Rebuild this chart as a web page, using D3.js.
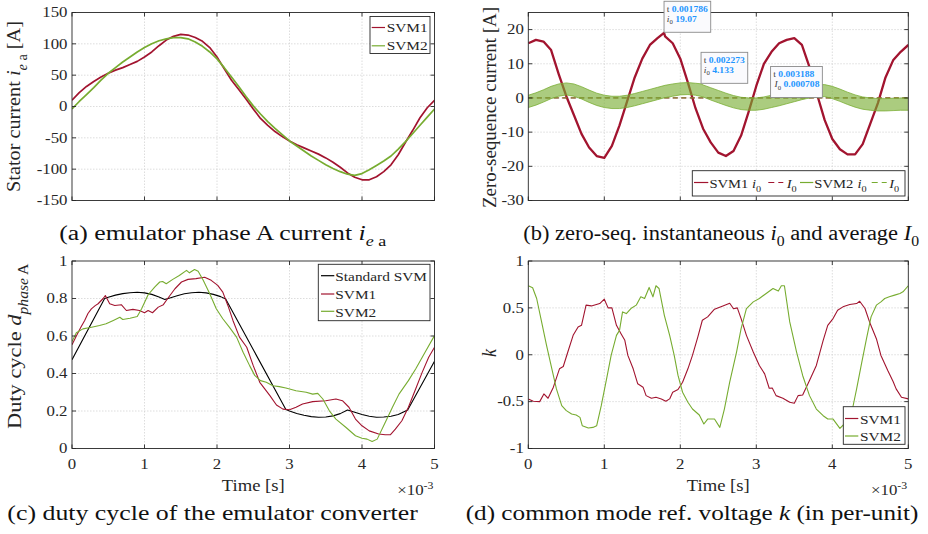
<!DOCTYPE html>
<html>
<head>
<meta charset="utf-8">
<script src="https://cdn.jsdelivr.net/npm/d3@7"></script>
<style>
  html, body { margin: 0; padding: 0; background: #fff; }
  svg { display: block; font-family: "Liberation Serif", "Times New Roman", serif; }
  text { white-space: pre; }
</style>
</head>
<body>
<svg id="fig" width="928" height="534"></svg>
<script>
// ---------------- data (time in ms) ----------------
const tGrid = [0,0.1,0.2,0.3,0.4,0.5,0.6,0.7,0.8,0.9,1,1.1,1.2,1.3,1.4,1.5,1.6,1.7,1.8,1.9,2,2.1,2.2,2.3,2.4,2.5,2.6,2.7,2.8,2.9,3,3.1,3.2,3.3,3.4,3.5,3.6,3.7,3.8,3.9,4,4.1,4.2,4.3,4.4,4.5,4.6,4.7,4.8,4.9,5];

// (a) emulator phase A current [A]
const svm1Current = [10,22,32,40,47,53,58,62,67,72,79,87,97,106,112,115,114,110,104,94,79,60,42,27,12,-4,-19,-30,-40,-48,-55,-61,-66,-71,-76,-82,-89,-97,-106,-113,-117,-117,-112,-104,-93,-77,-57,-38,-18,-2,10];
const svm2Current = [-4,8,19,30,42,53,62,71,79,87,94,100,105,108,110,110,108,103,96,87,76,62,47,32,16,1,-12,-24,-35,-45,-55,-63,-71,-79,-86,-93,-99,-104,-108,-110,-107,-101,-94,-87,-79,-68,-56,-43,-30,-17,-4];

// (b) zero-sequence current [A]
const tZs1 = [0,0.1,0.2,0.3,0.4,0.5,0.6,0.7,0.8,0.9,1,1.1,1.2,1.3,1.4,1.5,1.6,1.7,1.786,1.8,1.9,2,2.1,2.2,2.3,2.4,2.5,2.6,2.7,2.8,2.9,3,3.1,3.2,3.3,3.4,3.5,3.6,3.7,3.8,3.9,4,4.1,4.2,4.3,4.4,4.5,4.6,4.7,4.8,4.9,5];
const svm1Zs = [16,17,16.5,14,7,0.5,-5,-10.5,-14.5,-17,-17.5,-14,-8,-1,6,11.5,15.5,17.5,19.07,18,16,11.5,4.5,-3,-9,-13,-16,-17,-15.5,-11,-4,3.5,10,13.5,16,17,17.5,15.5,9,1,-6.5,-12,-15,-16.5,-16.5,-13.5,-7.5,-1.5,6,11,13.5,15.5];
const tZs2 = [0,0.1,0.2,0.3,0.4,0.5,0.6,0.7,0.8,0.9,1,1.1,1.2,1.3,1.4,1.5,1.6,1.7,1.8,1.9,2,2.1,2.2,2.273,2.3,2.4,2.5,2.6,2.7,2.8,2.9,3,3.1,3.2,3.3,3.4,3.5,3.6,3.7,3.8,3.9,4,4.1,4.2,4.3,4.4,4.5,4.6,4.7,4.8,4.9,5];
const svm2ZsUpper = [0.8,1.5,2.4,3.4,4.1,4.4,4.1,3.3,2.3,1.4,0.8,0.5,0.5,0.8,1.3,1.9,2.5,3.1,3.7,4.1,4.4,4.5,4.3,4.133,3.8,3.0,2.2,1.4,0.7,0.2,0.0,0.0,0.3,0.8,1.3,1.9,2.5,3.1,3.6,3.9,3.9,3.4,2.6,1.7,0.9,0.3,0.0,-0.2,-0.2,-0.1,0.0,0.0];
const svm2ZsLower = [-2.8,-2.1,-1.2,-0.2,0.5,0.9,0.5,-0.3,-1.3,-2.2,-2.8,-3.1,-3.1,-2.8,-2.3,-1.7,-1.1,-0.5,0.1,0.5,0.9,1.0,0.8,0.45,0.3,-0.6,-1.4,-2.2,-2.9,-3.4,-3.6,-3.6,-3.3,-2.8,-2.3,-1.7,-1.1,-0.5,0.0,0.4,0.4,-0.2,-1.0,-1.9,-2.7,-3.3,-3.6,-3.8,-3.8,-3.7,-3.6,-3.6];
const tAvg = [0, 5];
const svm1Avg = [0, 0];
const svm2Avg = [0.000708, 0.000708];

// (c) duty cycle of phase A
const tStd = [0,0.45,0.5,0.6,0.7,0.8,0.9,1.0,1.1,1.2,1.28,1.35,1.45,1.55,1.65,1.75,1.85,1.95,2.05,2.12,2.95,3.0,3.1,3.2,3.3,3.4,3.5,3.6,3.7,3.8,3.9,4.0,4.1,4.2,4.3,4.4,4.5,4.63,5.0];
const dutyStd = [0.474,0.800,0.807,0.818,0.826,0.831,0.833,0.830,0.822,0.808,0.795,0.803,0.815,0.825,0.831,0.833,0.830,0.822,0.810,0.797,0.208,0.200,0.187,0.177,0.170,0.167,0.168,0.174,0.186,0.205,0.193,0.181,0.172,0.167,0.168,0.172,0.181,0.205,0.465];
const tDuty1 = [0,0.06,0.12,0.175,0.22,0.267,0.32,0.36,0.43,0.46,0.52,0.59,0.68,0.75,0.84,0.93,1.0,1.05,1.11,1.19,1.26,1.32,1.42,1.51,1.6,1.71,1.83,1.92,2.01,2.08,2.15,2.22,2.31,2.41,2.5,2.59,2.73,2.82,2.91,3.0,3.09,3.18,3.32,3.5,3.64,3.73,3.82,3.91,4.0,4.1,4.23,4.32,4.39,4.46,4.55,4.64,4.74,4.83,4.92,5.0];
const duty1 = [0.553,0.60,0.645,0.683,0.72,0.745,0.762,0.772,0.80,0.816,0.772,0.763,0.767,0.736,0.742,0.736,0.724,0.736,0.724,0.754,0.767,0.80,0.852,0.888,0.902,0.906,0.913,0.897,0.87,0.834,0.763,0.683,0.594,0.54,0.442,0.353,0.282,0.232,0.21,0.207,0.22,0.237,0.25,0.255,0.264,0.255,0.22,0.157,0.121,0.094,0.077,0.073,0.073,0.103,0.148,0.22,0.317,0.406,0.487,0.54];
const tDuty2 = [0,0.06,0.15,0.27,0.38,0.47,0.57,0.66,0.7,0.8,0.9,0.96,1.05,1.14,1.21,1.25,1.3,1.39,1.48,1.58,1.62,1.69,1.74,1.81,1.9,1.99,2.08,2.17,2.27,2.36,2.45,2.52,2.6,2.68,2.77,2.86,2.95,3.09,3.23,3.32,3.39,3.46,3.55,3.64,3.78,3.91,4.0,4.07,4.14,4.21,4.32,4.42,4.51,4.64,4.74,4.87,5.0];
const duty2 = [0.57,0.617,0.638,0.647,0.656,0.665,0.683,0.70,0.688,0.695,0.704,0.745,0.82,0.861,0.888,0.891,0.879,0.902,0.923,0.95,0.937,0.955,0.945,0.897,0.825,0.745,0.692,0.647,0.594,0.513,0.442,0.39,0.362,0.353,0.335,0.33,0.323,0.308,0.30,0.29,0.294,0.264,0.201,0.157,0.112,0.068,0.055,0.05,0.037,0.05,0.139,0.22,0.29,0.362,0.424,0.513,0.602];

// (d) common mode reference voltage k [p.u.]
const tK1 = [0,0.066,0.15,0.205,0.26,0.33,0.41,0.46,0.52,0.59,0.655,0.7,0.76,0.83,0.94,1.0,1.05,1.1,1.16,1.22,1.27,1.31,1.38,1.44,1.51,1.55,1.62,1.68,1.75,1.81,1.86,1.9,1.97,2.03,2.1,2.16,2.23,2.29,2.36,2.45,2.56,2.65,2.7,2.75,2.8,2.87,2.96,3.04,3.11,3.17,3.21,3.26,3.35,3.44,3.5,3.55,3.61,3.7,3.79,3.88,3.94,4.01,4.07,4.14,4.23,4.32,4.36,4.43,4.49,4.58,4.64,4.73,4.8,4.84,4.91,5.0];
const k1 = [-0.471,-0.496,-0.5,-0.418,-0.464,-0.346,-0.15,-0.125,0.029,0.207,0.296,0.314,0.529,0.521,0.546,0.593,0.5,0.5,0.314,0.225,0.154,-0.007,-0.15,-0.31,-0.346,-0.436,-0.464,-0.454,-0.471,-0.496,-0.471,-0.4,-0.371,-0.293,-0.15,-0.007,0.189,0.368,0.404,0.486,0.521,0.55,0.49,0.5,0.386,0.207,0.029,-0.114,-0.204,-0.357,-0.354,-0.436,-0.464,-0.507,-0.518,-0.436,-0.429,-0.275,-0.114,0.154,0.314,0.386,0.475,0.511,0.536,0.546,0.571,0.493,0.35,0.171,-0.007,-0.168,-0.286,-0.364,-0.454,-0.471];
const tK2 = [0,0.057,0.11,0.175,0.24,0.31,0.37,0.44,0.5,0.57,0.63,0.68,0.71,0.79,0.85,0.9,0.96,1.03,1.09,1.16,1.2,1.24,1.29,1.35,1.42,1.48,1.53,1.59,1.64,1.68,1.72,1.79,1.86,1.92,1.97,2.03,2.1,2.16,2.25,2.31,2.36,2.45,2.52,2.58,2.65,2.74,2.8,2.87,2.96,3.04,3.13,3.22,3.29,3.33,3.37,3.44,3.53,3.61,3.7,3.79,3.88,3.94,4.01,4.1,4.18,4.27,4.32,4.38,4.45,4.51,4.58,4.64,4.69,4.75,4.82,4.89,4.93,5.0];
const k2 = [0.736,0.714,0.6,0.35,0.1,-0.15,-0.364,-0.543,-0.596,-0.632,-0.643,-0.668,-0.757,-0.782,-0.775,-0.757,-0.543,-0.257,-0.007,0.207,0.26,0.457,0.439,0.493,0.529,0.618,0.6,0.718,0.618,0.736,0.707,0.421,0.207,-0.007,-0.221,-0.4,-0.507,-0.579,-0.643,-0.739,-0.686,-0.686,-0.775,-0.579,-0.293,0.029,0.279,0.493,0.564,0.6,0.654,0.707,0.679,0.736,0.736,0.35,0.029,-0.221,-0.436,-0.579,-0.65,-0.686,-0.686,-0.786,-0.72,-0.56,-0.364,-0.114,0.171,0.404,0.529,0.564,0.6,0.618,0.636,0.654,0.671,0.736];

// ticks
const xTicks = [0, 1, 2, 3, 4, 5];
const yTicksA = [-150, -100, -50, 0, 50, 100, 150];
const yTicksB = [-30, -20, -10, 0, 10, 20];
const yTicksC = [0, 0.2, 0.4, 0.6, 0.8, 1];
const yTicksD = [-1, -0.5, 0, 0.5, 1];

// data tips on panel (b): time in s
const tipTimes = [0.001786, 0.002273, 0.003188];
const tipValues = [19.07, 4.133, 0.000708];
const tipNames = ["i", "i", "I"];

// ---------------- drawing ----------------
const RED = "#a2142f", GREEN = "#77ac30", AXIS = "#262626";
const SX = 1.2;
const svg = d3.select("#fig");
const defs = svg.append("defs");

function addParts(text, parts, fs) {
  let shift = 0;
  parts.forEach(p => {
    const level = p.sub ? fs * 0.32 : p.sup ? -fs * 0.42 : 0;
    const ts = text.append("tspan").attr("dy", (level - shift).toFixed(2)).text(p.t);
    shift = level;
    if (p.it) ts.attr("font-style", "italic");
    if (p.b) ts.attr("font-weight", "bold");
    if (p.sub || p.sup) ts.attr("font-size", (fs * 0.7).toFixed(2));
    if (p.fill) ts.attr("fill", p.fill);
  });
}

function label(parent, parts, o) {
  const fs = o.fs || 14;
  const g = parent.append("g");
  const t = g.append("text").attr("font-size", fs).attr("fill", o.fill || AXIS);
  addParts(t, parts, fs);
  const bb = t.node().getBBox();
  const sx = o.width ? o.width / bb.width : (o.sx || SX);
  const sy = o.sy || 1;
  const a = o.anchor || "start";
  const ox = a === "start" ? -bb.x : a === "middle" ? -(bb.x + bb.width / 2) : -(bb.x + bb.width);
  const oy = o.vcenter ? -(bb.y + bb.height / 2) : 0;
  t.attr("transform", `translate(${ox},${oy})`);
  g.attr("transform", `translate(${o.x},${o.y}) rotate(${o.rotate || 0}) scale(${sx},${sy})`);
  return { g, w: bb.width * sx };
}

function makePanel(id, box, yDomain, yTicks, showXLabels) {
  const x = d3.scaleLinear().domain([0, 5]).range([box.x0, box.x1]);
  const y = d3.scaleLinear().domain(yDomain).range([box.y1, box.y0]);
  const g = svg.append("g");
  // grid
  const grid = g.append("g").attr("stroke", "#d4d4d4").attr("stroke-width", 0.8).attr("stroke-dasharray", "1.5,1.5");
  xTicks.filter(v => v > 0 && v < 5).forEach(v =>
    grid.append("line").attr("x1", x(v)).attr("x2", x(v)).attr("y1", box.y0).attr("y2", box.y1));
  yTicks.filter(v => y(v) > box.y0 + 1 && y(v) < box.y1 - 1).forEach(v =>
    grid.append("line").attr("y1", y(v)).attr("y2", y(v)).attr("x1", box.x0).attr("x2", box.x1));
  defs.append("clipPath").attr("id", "clip-" + id).append("rect")
    .attr("x", box.x0).attr("y", box.y0).attr("width", box.x1 - box.x0).attr("height", box.y1 - box.y0);
  const plot = g.append("g").attr("clip-path", `url(#clip-${id})`);
  const over = svg.append("g");
  const frame = () => {
    const f = over.append("g");
    f.append("rect").attr("x", box.x0).attr("y", box.y0)
      .attr("width", box.x1 - box.x0).attr("height", box.y1 - box.y0)
      .attr("fill", "none").attr("stroke", AXIS).attr("stroke-width", 0.9);
    const tk = f.append("g").attr("stroke", AXIS).attr("stroke-width", 0.9);
    const L = 4;
    xTicks.forEach(v => {
      tk.append("line").attr("x1", x(v)).attr("x2", x(v)).attr("y1", box.y1).attr("y2", box.y1 - L);
      tk.append("line").attr("x1", x(v)).attr("x2", x(v)).attr("y1", box.y0).attr("y2", box.y0 + L);
    });
    yTicks.forEach(v => {
      tk.append("line").attr("y1", y(v)).attr("y2", y(v)).attr("x1", box.x0).attr("x2", box.x0 + L);
      tk.append("line").attr("y1", y(v)).attr("y2", y(v)).attr("x1", box.x1).attr("x2", box.x1 - L);
    });
    yTicks.forEach(v => label(f, [{ t: String(v) }], { x: box.x0 - 4.5, y: y(v) + 4.8, anchor: "end", fs: 14 }));
    if (showXLabels) {
      xTicks.forEach(v => label(f, [{ t: String(v) }], { x: x(v), y: 468.5, anchor: "middle", fs: 14 }));
      label(f, [{ t: "Time [s]" }], { x: (box.x0 + box.x1) / 2, y: 491, anchor: "middle", fs: 17, width: 63 });
      label(f, [{ t: "\u00d710" }, { t: "-3", sup: true }], { x: box.x1 - 1, y: 495, anchor: "end", fs: 14 });
    }
    return f;
  };
  return { x, y, plot, over, frame, box };
}

const pts = (ts, vs) => ts.map((t, i) => [t, vs[i]]);
function drawLine(P, data, color, width, dash, opacity) {
  const line = d3.line().x(d => P.x(d[0])).y(d => P.y(d[1]));
  const p = P.plot.append("path").attr("d", line(data)).attr("fill", "none")
    .attr("stroke", color).attr("stroke-width", width).attr("stroke-linejoin", "round");
  if (dash) p.attr("stroke-dasharray", dash);
  if (opacity) p.attr("stroke-opacity", opacity);
  return p;
}

function legendBox(parent, x, y, w, h) {
  parent.append("rect").attr("x", x).attr("y", y).attr("width", w).attr("height", h)
    .attr("fill", "#fff").attr("stroke", AXIS).attr("stroke-width", 0.9);
}
function legendSample(parent, x1, x2, y, color, dash, opacity) {
  const l = parent.append("line").attr("x1", x1).attr("x2", x2).attr("y1", y).attr("y2", y)
    .attr("stroke", color).attr("stroke-width", 1.2);
  if (dash) l.attr("stroke-dasharray", dash);
  if (opacity) l.attr("stroke-opacity", opacity);
}

// ---- (a) ----
const A = makePanel("a", { x0: 72, x1: 434.5, y0: 12.5, y1: 200.5 }, [-150, 150], yTicksA, false);
drawLine(A, pts(tGrid, svm1Current), RED, 1.7);
drawLine(A, pts(tGrid, svm2Current), GREEN, 1.7);
{
  const f = A.frame();
  legendBox(f, 370, 16.5, 60, 37);
  legendSample(f, 371.7, 385, 27.5, RED);
  legendSample(f, 371.7, 385, 45.8, GREEN);
  label(f, [{ t: "SVM1" }], { x: 386.7, y: 31.7, fs: 12.8 });
  label(f, [{ t: "SVM2" }], { x: 386.7, y: 50, fs: 12.8 });
  label(svg, [{ t: "Stator current " }, { t: "i", it: true }, { t: "e", it: true, sub: true }, { t: " a", sub: true }, { t: " [A]" }],
    { x: 16.5, y: 106.5, rotate: -90, anchor: "middle", vcenter: true, fs: 17, width: 171, sy: 1.15 });
  label(svg, [{ t: "(a) emulator phase A current " }, { t: "i", it: true }, { t: "e", it: true, sub: true }, { t: " a", sub: true }],
    { x: 59.3, y: 239.5, fs: 20, width: 328, fill: "#111" });
}

// ---- (b) ----
const B = makePanel("b", { x0: 528.3, x1: 908.3, y0: 12.5, y1: 200.5 }, [-30, 25], yTicksB, false);
drawLine(B, pts(tZs1, svm1Zs), RED, 2.3);
drawLine(B, pts(tAvg, svm1Avg), RED, 1.3, "5,3.5");
{
  const area = d3.area().x(d => B.x(d[0])).y0(d => B.y(d[1])).y1(d => B.y(d[2]));
  const band = tZs2.map((t, i) => [t, svm2ZsLower[i], svm2ZsUpper[i]]);
  B.plot.append("path").attr("d", area(band)).attr("fill", GREEN).attr("fill-opacity", 0.62);
  drawLine(B, pts(tZs2, svm2ZsUpper), GREEN, 0.9, null, 0.85);
  drawLine(B, pts(tZs2, svm2ZsLower), GREEN, 0.9, null, 0.85);
}
drawLine(B, pts(tAvg, svm2Avg), GREEN, 1.3, "5,3.5", 0.7);
{
  const f = B.frame();
  legendBox(f, 692.3, 170.7, 212.7, 25.3);
  const ly = 182.5, by = 188.3, lf = 12.2;
  legendSample(f, 694, 708.3, ly, RED);
  label(f, [{ t: "SVM1" }], { x: 709.4, y: by, fs: lf });
  label(f, [{ t: "i", it: true }, { t: "0", sub: true }], { x: 752, y: by, fs: lf });
  legendSample(f, 768.3, 783.3, ly, RED, "6,4");
  label(f, [{ t: "I", it: true }, { t: "0", sub: true }], { x: 785.5, y: by, fs: lf });
  legendSample(f, 800, 813.3, ly, GREEN);
  label(f, [{ t: "SVM2" }], { x: 814.3, y: by, fs: lf });
  label(f, [{ t: "i", it: true }, { t: "0", sub: true }], { x: 857.5, y: by, fs: lf });
  legendSample(f, 871.7, 886.7, ly, GREEN, "6,4");
  label(f, [{ t: "I", it: true }, { t: "0", sub: true }], { x: 888, y: by, fs: lf });
  label(svg, [{ t: "Zero-sequence current [A]" }],
    { x: 489.5, y: 107.5, rotate: -90, anchor: "middle", vcenter: true, fs: 17, width: 201, sy: 1.15 });
  label(svg, [{ t: "(b) zero-seq. instantaneous " }, { t: "i", it: true }, { t: "0", sub: true }, { t: " and average " }, { t: "I", it: true }, { t: "0", sub: true }],
    { x: 523.3, y: 239.5, fs: 20, width: 396, fill: "#111" });

  // data tips
  const BLUE = "#1e96ff", GREY = "#3c3c3c";
  tipTimes.forEach((t, i) => {
    const tip = svg.append("g");
    const px = B.x(t * 1000), py = B.y(tipValues[i]) - 0.5;
    const rect = tip.append("rect");
    const top = py - 31;
    const l1 = label(tip, [{ t: "t ", fill: GREY }, { t: String(t), b: true, fill: BLUE }], { x: px + 2.7, y: top + 10.5, fs: 8 });
    const l2 = label(tip, [{ t: tipNames[i], it: true, fill: GREY }, { t: "0", sub: true, fill: GREY }, { t: " " + String(tipValues[i]), b: true, fill: BLUE }],
      { x: px + 2.7, y: top + 20.5, fs: 8 });
    const w = Math.max(l1.w, l2.w) + 5.6;
    rect.attr("x", px).attr("y", top).attr("width", w).attr("height", 31)
      .attr("fill", "#fafafd").attr("stroke", "#8a8a8a").attr("stroke-width", 0.9);
  });
}

// ---- (c) ----
const C = makePanel("c", { x0: 72, x1: 434.5, y0: 261, y1: 448.5 }, [0, 1], yTicksC, true);
drawLine(C, pts(tStd, dutyStd), "#000", 1.1);
drawLine(C, pts(tDuty1, duty1), RED, 1.1);
drawLine(C, pts(tDuty2, duty2), GREEN, 1.1);
{
  const f = C.frame();
  legendBox(f, 318.3, 264.3, 111.7, 56.4);
  legendSample(f, 321, 334.3, 275.7, "#000");
  legendSample(f, 321, 334.3, 294, RED);
  legendSample(f, 321, 334.3, 311.3, GREEN);
  label(f, [{ t: "Standard SVM" }], { x: 335.3, y: 281, fs: 12.8 });
  label(f, [{ t: "SVM1" }], { x: 335.3, y: 299, fs: 12.8 });
  label(f, [{ t: "SVM2" }], { x: 335.3, y: 316.7, fs: 12.8 });
  label(svg, [{ t: "Duty cycle " }, { t: "d", it: true }, { t: "phase", it: true, sub: true }, { t: " A", sub: true }],
    { x: 17.5, y: 346, rotate: -90, anchor: "middle", vcenter: true, fs: 17, width: 166, sy: 1.15 });
  label(svg, [{ t: "(c) duty cycle of the emulator converter" }],
    { x: 7.3, y: 520, fs: 20, width: 411, fill: "#111" });
}

// ---- (d) ----
const D = makePanel("d", { x0: 528.3, x1: 908.3, y0: 261, y1: 448.5 }, [-1, 1], yTicksD, true);
drawLine(D, pts(tK1, k1), RED, 1.1);
drawLine(D, pts(tK2, k2), GREEN, 1.1);
{
  const f = D.frame();
  legendBox(f, 843.3, 406.7, 61.7, 37.6);
  legendSample(f, 845, 858.3, 418.5, RED);
  legendSample(f, 845, 858.3, 436, GREEN);
  label(f, [{ t: "SVM1" }], { x: 860, y: 423.5, fs: 12.8 });
  label(f, [{ t: "SVM2" }], { x: 860, y: 441, fs: 12.8 });
  label(svg, [{ t: "k", it: true }],
    { x: 489, y: 352.5, rotate: -90, anchor: "middle", vcenter: true, fs: 18, sx: 1, sy: 1.2 });
  label(svg, [{ t: "(d) common mode ref. voltage " }, { t: "k", it: true }, { t: " (in per-unit)" }],
    { x: 465.7, y: 520, fs: 20, width: 453, fill: "#111" });
}
</script>
</body>
</html>
